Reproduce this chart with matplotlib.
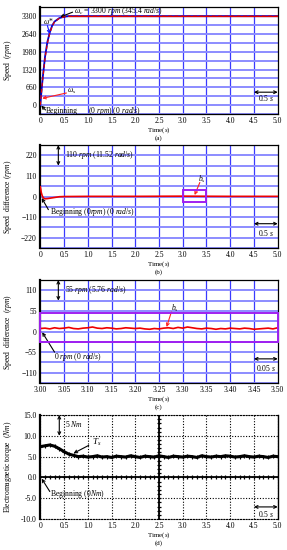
import numpy as np
import matplotlib
matplotlib.use("Agg")
import matplotlib.pyplot as plt

plt.rcParams['font.family'] = ['Liberation Serif', 'DejaVu Serif']
plt.rcParams['mathtext.fontset'] = 'custom'
plt.rcParams['mathtext.rm'] = 'Liberation Serif'
plt.rcParams['mathtext.it'] = 'Liberation Serif:italic'
plt.rcParams['font.size'] = 5.5

# -------- data --------
# (a) speed
t_a = [0, 0.02, 0.05, 0.08, 0.1, 0.15, 0.2, 0.25, 0.3, 0.4, 0.5, 0.6, 0.8, 1.0, 2.0, 3.0, 4.0, 5.0]
w_ref = [0, 420, 1000, 1480, 1800, 2350, 2700, 2950, 3100, 3230, 3280, 3300, 3300, 3300, 3300, 3300, 3300, 3300]
w_s = [0, 380, 950, 1430, 1750, 2300, 2670, 2930, 3090, 3220, 3275, 3298, 3300, 3300, 3300, 3300, 3300, 3300]

# (b) speed difference
t_b = [0, 0.01, 0.02, 0.04, 0.06, 0.08, 0.1, 0.15, 0.2, 0.25, 0.3, 0.35, 0.4, 0.5, 1.0, 2.0, 3.0, 4.0, 5.0]
dw_b = [52, 40, 22, 5, -6, -10, -12, -11, -9, -7, -5, -3, -1, 0, 1, 1, 2, 1, 1]

# (c) zoomed speed difference, 3.00 .. 3.50 s
t_c = np.linspace(3.0, 3.5, 51)
dw_c = [8, 9, 7, 10, 8, 9, 11, 8, 7, 9, 10, 12, 9, 8, 10, 9, 7, 8, 10, 9,
        8, 9, 7, 6, 8, 7, 9, 10, 8, 11, 9, 12, 10, 8, 7, 9, 8, 6, 8, 7,
        9, 8, 7, 9, 8, 6, 7, 8, 9, 7, 10]

# (d) electromagnetic torque
t_d = np.linspace(0, 5, 51)
te_d = [7.4, 7.6, 7.8, 7.5, 6.9, 6.2, 5.6, 5.3, 5.0, 5.1, 4.9, 5.0, 5.2, 4.9, 5.0, 4.8,
        5.1, 5.0, 4.9, 5.2, 5.0, 4.8, 5.1, 5.0, 4.9, 5.2, 5.0, 4.8, 5.1, 5.0, 4.9, 5.1,
        5.0, 4.8, 5.2, 5.0, 4.9, 5.1, 5.0, 5.2, 5.1, 4.9, 5.0, 5.2, 5.0, 4.9, 5.1, 5.0,
        4.8, 5.1, 5.0]

yt_a = [0, 660, 1320, 1980, 2640, 3300]
yt_b = [-220, -110, 0, 110, 220]
yt_c = [-110, -55, 0, 55, 110]
yt_d = [-10.0, -5.0, 0.0, 5.0, 10.0, 15.0]
xt_full = [0, 0.5, 1.0, 1.5, 2.0, 2.5, 3.0, 3.5, 4.0, 4.5, 5.0]
xt_c = [3.00, 3.05, 3.10, 3.15, 3.20, 3.25, 3.30, 3.35, 3.40, 3.45, 3.50]
xlab_full = ['0', '0.5', '1.0', '1.5', '2.0', '2.5', '3.0', '3.5', '4.0', '4.5', '5.0']

fig = plt.figure(figsize=(2.87, 5.50), dpi=100)
L, W = 0.1404, 0.8272
ax_a = fig.add_axes([L, 0.7927, W, 0.194])
ax_b = fig.add_axes([L, 0.549, W, 0.1873])
ax_c = fig.add_axes([L, 0.3036, W, 0.1873])
ax_d = fig.add_axes([L, 0.0564, W, 0.189])

blue_v = '#3a3aff'
blue_h = '#8c8cff'


def blue_grid(ax, xt, xminor, yt, ylim):
    ax.set_xticks(xt)
    ax.set_yticks(yt)
    step = yt[1] - yt[0]
    for x in xminor:
        ax.axvline(x, color=blue_v, lw=0.9, zorder=0)
    yy = yt[0] - step
    while yy <= ylim[1]:
        ax.axhline(yy, color=blue_h, lw=1.4, zorder=0)
        ax.axhline(yy + step / 2, color=blue_h, lw=1.4, zorder=0)
        yy += step
    ax.set_ylim(*ylim)
    ax.tick_params(axis='y', length=0, pad=2.5, labelsize=5.5)
    ax.tick_params(axis='x', length=0, pad=2, labelsize=5.5)
    for s in ax.spines.values():
        s.set_linewidth(0.9)
    ax.spines['left'].set_linewidth(1.6)


def arrow(ax, xy, xytext, color='k', style='->'):
    ax.annotate('', xy=xy, xytext=xytext,
                arrowprops=dict(arrowstyle=style, color=color, lw=0.8,
                                shrinkA=0, shrinkB=0, mutation_scale=5))


def labels(ax, ylab, tag, h_px):
    ax.set_ylabel(ylab, fontsize=5.5, va='center')
    ax.yaxis.set_label_coords(-0.135, 0.5)
    ax.text(0.5, -16.0 / h_px, r'Time($s$)', transform=ax.transAxes,
            ha='center', va='center', fontsize=5)
    ax.text(0.5, -23.8 / h_px, tag, transform=ax.transAxes,
            ha='center', va='center', fontsize=5)


# ---- (a) ----
ax = ax_a
blue_grid(ax, xt_full, xt_full[1:-1], yt_a, (-330, 3630))
ax.set_xlim(0, 5)
ax.set_xticklabels(xlab_full)
ax.plot(t_a, w_ref, color='#0000cc', lw=1.3, zorder=3)
ax.plot(t_a, w_s, color='#e00000', lw=0.9, ls=(0, (3, 2)), zorder=4)
ax.plot([0.6, 5.0], [w_s[-1], w_s[-1]], color='#e00000', lw=0.9, zorder=4)
ax.text(0.72, 3490, r'$\omega_c$ = 3300 $rpm$ (345.4 $rad/s$)', fontsize=5.5, va='center', ha='left')
arrow(ax, (0.42, 3270), (0.68, 3450))
ax.text(0.05, 3110, r'$\omega$*', fontsize=5.5, va='center')
arrow(ax, (0.2, 2640), (0.15, 2950), color='#1010ff')
ax.text(0.57, 500, r'$\omega_s$', fontsize=5.5, va='center')
arrow(ax, (0.04, 250), (0.55, 450), color='#ff2020')
ax.text(0.12, -200, 'Beginning', fontsize=5.5, va='center')
ax.text(1.0, -200, r'(0 $rpm$) (0 $rad/s$)', fontsize=5.5, va='center')
arrow(ax, (0.02, -20), (0.11, -180))
arrow(ax, (4.5, 480), (5.0, 480), style='<->')
ax.text(4.75, 250, r'0.5 $s$', fontsize=5.5, ha='center', va='center')
labels(ax, r'Speed  $(rpm)$', '(a)', 106.7)

# ---- (b) ----
ax = ax_b
blue_grid(ax, xt_full, xt_full[1:-1], yt_b, (-275, 275))
ax.set_xlim(0, 5)
ax.set_xticklabels(xlab_full)
ax.plot(t_b, dw_b, color='#ee0000', lw=1.2, zorder=3)
ax.add_patch(plt.Rectangle((3.0, -27.5), 0.5, 62.5, fill=False, ec='#a020f0', lw=1.4, zorder=5))
ax.text(3.33, 92, r'$b_s$', fontsize=5.5, va='center')
arrow(ax, (3.25, 8), (3.36, 75), color='#ff2020')
arrow(ax, (0.38, 165), (0.38, 275), style='<->')
ax.text(0.52, 220, r'110 $rpm$ (11.52 $rad/s$)', fontsize=5.5, va='center')
ax.text(0.2, -85, r'Beginning (0$rpm$) (0 $rad/s$)', fontsize=5.5, va='center')
arrow(ax, (0.03, -8), (0.17, -70))
arrow(ax, (4.5, -145), (5.0, -145), style='<->')
ax.text(4.75, -197, r'0.5 $s$', fontsize=5.5, ha='center', va='center')
labels(ax, r'Speed  difference $(rpm)$', '(b)', 103)

# ---- (c) ----
ax = ax_c
blue_grid(ax, xt_c, xt_c[1:-1], yt_c, (-137.5, 137.5))
ax.set_xlim(3.0, 3.5)
ax.set_xticklabels(['%.2f' % v for v in xt_c])
ax.plot(t_c, dw_c, color='#ee0000', lw=1.2, zorder=3)
ax.add_patch(plt.Rectangle((3.0, -27.5), 0.5, 77.5, fill=False, ec='#a020f0', lw=1.4, zorder=5, clip_on=False))
ax.text(3.275, 63, r'$b_s$', fontsize=5.5, va='center')
arrow(ax, (3.266, 12), (3.276, 52), color='#ff2020')
arrow(ax, (3.038, 82.5), (3.038, 137.5), style='<->')
ax.text(3.052, 110, r'55 $rpm$ (5.76 $rad/s$)', fontsize=5.5, va='center')
ax.text(3.028, -68, r'0 $rpm$ (0 $rad/s$)', fontsize=5.5, va='center')
arrow(ax, (3.004, -2), (3.03, -55))
arrow(ax, (3.45, -73), (3.5, -73), style='<->')
ax.text(3.475, -97, r'0.05 $s$', fontsize=5.5, ha='center', va='center')
labels(ax, r'Speed  difference  $(rpm)$', '(c)', 103)

# ---- (d) ----
ax = ax_d
ax.set_xlim(0, 5)
ax.set_ylim(-10, 15)
ax.set_xticks(xt_full)
ax.set_xticklabels(xlab_full)
ax.set_yticks(yt_d)
ax.set_yticklabels(['%.1f' % v for v in yt_d])
ax.grid(True, color='k', ls=(0, (1, 1.5)), lw=0.8)
ax.tick_params(axis='y', length=0, pad=2.5, labelsize=5.5)
ax.tick_params(axis='x', length=0, pad=2, labelsize=5.5)
for s in ['top', 'bottom']:
    ax.spines[s].set_linestyle((0, (1, 1.5)))
    ax.spines[s].set_linewidth(0.8)
ax.spines['left'].set_linewidth(1.6)
ax.spines['right'].set_linewidth(1.0)
ax.axvline(2.5, color='k', lw=1.3, zorder=2)
ax.axhline(0, color='k', lw=1.3, zorder=2)
ax.plot(np.full(26, 2.5), np.linspace(-10, 15, 26), ls='none', marker='_', ms=3, mew=0.9, color='k')
ax.plot(np.linspace(0, 5, 51), np.zeros(51), ls='none', marker='|', ms=3, mew=0.9, color='k')
ax.plot(t_d, te_d, color='k', lw=2.2, marker='+', ms=2.5, mew=0.8, zorder=3)
arrow(ax, (0.4, 10), (0.4, 15), style='<->')
ax.text(0.52, 12.8, r'5 $Nm$', fontsize=5.5, va='center')
ax.text(1.08, 8.4, r'$T_s$', fontsize=6.5, va='center')
arrow(ax, (0.7, 5.8), (1.02, 7.7))
ax.text(0.2, -4.0, r'Beginning (0$Nm$)', fontsize=5.5, va='center')
arrow(ax, (0.03, -0.3), (0.2, -3.4))
arrow(ax, (4.5, -7.1), (5.0, -7.1), style='<->')
ax.text(4.75, -8.8, r'0.5 $s$', fontsize=5.5, ha='center', va='center')
labels(ax, r'Electromagnetic torque  $(Nm)$', '(d)', 104)

fig.savefig('out.png', dpi=100)
